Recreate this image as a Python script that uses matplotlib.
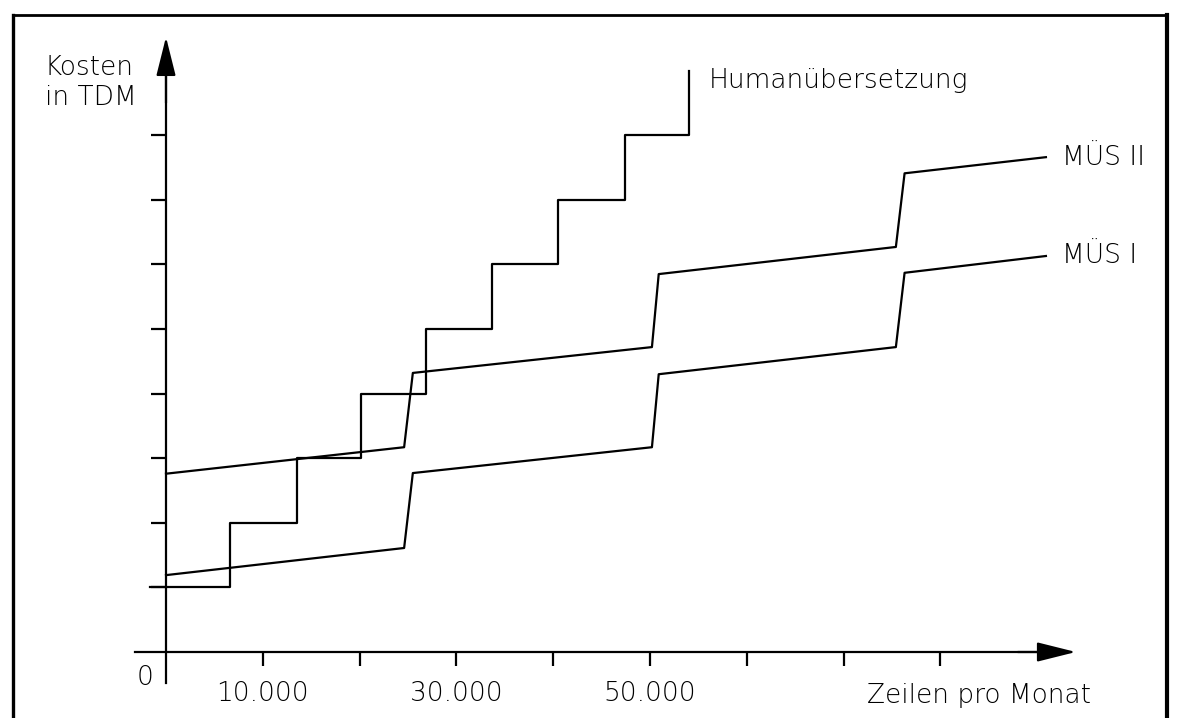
import matplotlib
matplotlib.use('Agg')
import matplotlib.pyplot as plt
from matplotlib.lines import Line2D

plt.rcParams['font.family'] = ['DejaVu Sans']
plt.rcParams['font.weight'] = 'light'

# Daten (Kosten in Skalenteilen, x in Zeilen pro Monat)
human_x = [-1650, 6600, 13500, 20100, 26900, 33700, 40500, 47400, 54000]
human_y = [1, 2, 3, 4, 5, 6, 7, 8, 9]

mues_x = [0, 24600, 25500, 50200, 50900, 75400, 76300, 90900]
mues2_y = [2.76, 3.17, 4.32, 4.72, 5.85, 6.27, 7.41, 7.66]
mues1_y = [1.19, 1.61, 2.77, 3.17, 4.30, 4.72, 5.87, 6.13]

y_ticks = [1, 2, 3, 4, 5, 6, 7, 8]
x_ticks = [10000, 20000, 30000, 40000, 50000, 60000, 70000, 80000]
x_labels = ['10.000', '', '30.000', '', '50.000', '', '', '']

W, H = 1179, 718
# Pixellage des Ursprungs und Skalen
x0_px, xu_px = 166, 96.8 / 10000
y0_px, yu_px = 652, 64.6

fig = plt.figure(figsize=(W / 100, H / 100), dpi=100)
ax = fig.add_axes([0, 0, 1, 1])
ax.set_xlim(-x0_px / xu_px, (W - x0_px) / xu_px)
ax.set_ylim(-(H - y0_px) / yu_px, y0_px / yu_px)

lw = 1.6
for s in ['top', 'right']:
    ax.spines[s].set_visible(False)
ax.spines['left'].set_position(('data', 0))
ax.spines['bottom'].set_position(('data', 0))
ax.spines['left'].set_bounds(-0.48, 9.2)
ax.spines['bottom'].set_bounds(-3200, 91000)
ax.spines['left'].set_linewidth(lw)
ax.spines['bottom'].set_linewidth(lw)

ax.set_yticks(y_ticks)
ax.set_yticklabels([])
ax.set_xticks(x_ticks)
ax.set_xticklabels(x_labels)
ax.tick_params(axis='y', direction='out', length=11, width=lw)
ax.tick_params(axis='x', direction='out', length=10, width=lw,
               labelsize=19, pad=11)

# Pfeilspitzen
arrow = dict(arrowstyle='-|>,head_length=2.4,head_width=0.6', color='black',
             lw=lw, shrinkA=0, shrinkB=0, mutation_scale=10)
ax.annotate('', xy=(0, 9.52), xytext=(0, 8.5), arrowprops=arrow)
ax.annotate('', xy=(94000, 0), xytext=(88000, 0), arrowprops=arrow)

# Kurven
ax.step(human_x, human_y, where='post', color='black', lw=lw,
        solid_joinstyle='round')
ax.plot(mues_x, mues2_y, color='black', lw=lw, solid_joinstyle='round')
ax.plot(mues_x, mues1_y, color='black', lw=lw, solid_joinstyle='round')

fs = 19
ax.text(56100, 8.73, 'Humanübersetzung', fontsize=fs, va='baseline')
ax.text(92560, 7.54, 'MÜS II', fontsize=fs, va='baseline')
ax.text(92560, 6.02, 'MÜS I', fontsize=fs, va='baseline')
ax.text(-12500, 8.93, 'Kosten', fontsize=fs, va='baseline')
ax.text(-12500, 8.47, 'in TDM', fontsize=fs, va='baseline')
ax.text(-2170, -0.40, '0', fontsize=fs, ha='center', va='center')
ax.text(72400, -0.79, 'Zeilen pro Monat', fontsize=fs, va='baseline')

# Rahmen
l, t, r = 13 / W, 1 - 15 / H, 1167 / W
fig.add_artist(Line2D([l, l], [0, t], transform=fig.transFigure, color='black', lw=2.4))
fig.add_artist(Line2D([l, r], [t, t], transform=fig.transFigure, color='black', lw=2))
fig.add_artist(Line2D([r, r], [0, t], transform=fig.transFigure, color='black', lw=3))

fig.savefig('out.png', dpi=100)
